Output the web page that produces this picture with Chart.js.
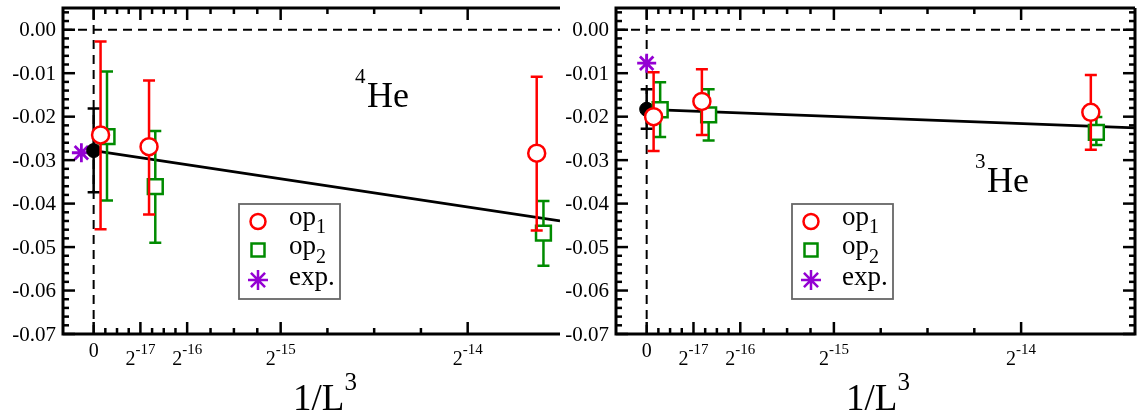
<!DOCTYPE html>
<html lang="en">
<head>
    <meta charset="UTF-8">
    <title>1/L^3 extrapolation</title>
    <script src="https://cdn.jsdelivr.net/npm/chart.js"></script>
    <style>
        body { margin: 0; background: #fff; }
        .panel { position: absolute; top: 0; }
        #he4 { left: 0; }
        #he3 { left: 560px; }
    </style>
</head>
<body>
<canvas id="he4" class="panel" width="565" height="416"></canvas>
<canvas id="he3" class="panel" width="581" height="416"></canvas>
<script>
// ---- 4He panel ----
const he4Op1X  = [1.13e-6, 9.04e-6, 7.23e-5];
const he4Op1Y  = [-0.0242, -0.0269, -0.0284];
const he4Op1Lo = [-0.0459, -0.0425, -0.0462];
const he4Op1Hi = [-0.0027, -0.0117, -0.0108];
const he4Op2X  = [2.18e-6, 1.006e-5, 7.34e-5];
const he4Op2Y  = [-0.0246, -0.0361, -0.0468];
const he4Op2Lo = [-0.0393, -0.0490, -0.0543];
const he4Op2Hi = [-0.0096, -0.0233, -0.0394];
const he4ExtX = [0], he4ExtY = [-0.0278], he4ExtLo = [-0.0374], he4ExtHi = [-0.0181];
const he4ExpX = [-2.0e-6], he4ExpY = [-0.0283];
const he4FitX = [0, 7.61e-5], he4FitY = [-0.0278, -0.0440];

// ---- 3He panel ----
const he3Op1X  = [1.13e-6, 9.0e-6, 7.24e-5];
const he3Op1Y  = [-0.0200, -0.0165, -0.0190];
const he3Op1Lo = [-0.0279, -0.0242, -0.0276];
const he3Op1Hi = [-0.0098, -0.0091, -0.0104];
const he3Op2X  = [2.2e-6, 1.01e-5, 7.33e-5];
const he3Op2Y  = [-0.0184, -0.0196, -0.0236];
const he3Op2Lo = [-0.0247, -0.0255, -0.0265];
const he3Op2Hi = [-0.0121, -0.0137, -0.0201];
const he3ExtX = [0], he3ExtY = [-0.0183], he3ExtLo = [-0.0228], he3ExtHi = [-0.0137];
const he3ExpX = [0], he3ExpY = [-0.0077];
const he3FitX = [0, 7.96e-5], he3FitY = [-0.0183, -0.0226];

// ---- axes ----
const xMajorTicks = [0, 2 ** -17, 2 ** -16, 2 ** -15, 2 ** -14];
const xMajorExp   = [null, '-17', '-16', '-15', '-14'];
const xMinorTicks = [1, 2, 3, 5, 6, 7].map(k => k * 2 ** -19)
    .concat([5, 6, 7].map(k => k * 2 ** -18))
    .concat([5, 6, 7].map(k => k * 2 ** -17));
const yMajorTicks = [0, -0.01, -0.02, -0.03, -0.04, -0.05, -0.06, -0.07];
const yMinorTicks = [];
for (let k = -35; k <= 2; k++) if (k % 5 !== 0) yMinorTicks.push(k * 0.002);

const RED = '#ff0000', GREEN = '#008b00', VIOLET = '#9400d3';
const SERIF = '"Liberation Serif", "Times New Roman", serif';

function pts(xs, ys) { return xs.map((x, i) => ({ x: x, y: ys[i] })); }

const errorBars = {
    id: 'errorBars',
    beforeDatasetDraw(chart, args) {
        const ds = chart.data.datasets[args.index];
        if (!ds.errLo) return;
        const ctx = chart.ctx, xs = chart.scales.x, ys = chart.scales.y;
        ctx.save();
        ctx.strokeStyle = ds.borderColor;
        ctx.lineWidth = 2.5;
        ds.data.forEach((p, i) => {
            const px = xs.getPixelForValue(p.x);
            const lo = ys.getPixelForValue(ds.errLo[i]);
            const hi = ys.getPixelForValue(ds.errHi[i]);
            ctx.beginPath();
            ctx.moveTo(px, lo); ctx.lineTo(px, hi);
            ctx.moveTo(px - 6, lo); ctx.lineTo(px + 6, lo);
            ctx.moveTo(px - 6, hi); ctx.lineTo(px + 6, hi);
            ctx.stroke();
        });
        ctx.restore();
    }
};

const zeroLines = {
    id: 'zeroLines',
    beforeDatasetsDraw(chart) {
        const ctx = chart.ctx, a = chart.chartArea;
        const x0 = chart.scales.x.getPixelForValue(0);
        const y0 = chart.scales.y.getPixelForValue(0);
        ctx.save();
        ctx.strokeStyle = '#000';
        ctx.lineWidth = 2;
        ctx.setLineDash([9, 6]);
        ctx.beginPath();
        ctx.moveTo(a.left, y0); ctx.lineTo(a.right, y0);
        ctx.moveTo(x0, a.bottom); ctx.lineTo(x0, a.top);
        ctx.stroke();
        ctx.restore();
    }
};

function drawSup(ctx, x, base, baseSize, baseY, sup, supSize, supY) {
    ctx.font = baseSize + 'px ' + SERIF;
    ctx.fillText(base, x, baseY);
    const w = ctx.measureText(base).width;
    ctx.font = supSize + 'px ' + SERIF;
    ctx.fillText(sup, x + w, supY);
}

function tick(ctx, x1, y1, x2, y2) {
    ctx.beginPath();
    ctx.moveTo(x1, y1);
    ctx.lineTo(x2, y2);
    ctx.stroke();
}

const frame = {
    id: 'frame',
    afterDraw(chart) {
        const o = chart.options.plugins.frame;
        const ctx = chart.ctx, a = chart.chartArea;
        const xs = chart.scales.x, ys = chart.scales.y;
        ctx.save();
        ctx.setLineDash([]);
        ctx.strokeStyle = '#000';
        ctx.fillStyle = '#000';

        // inward ticks
        ctx.lineWidth = 2.5;
        const xTicks = xMajorTicks.map(v => [v, 12]).concat(xMinorTicks.map(v => [v, 6]));
        xTicks.forEach(([v, len]) => {
            const px = xs.getPixelForValue(v);
            if (px < a.left || px > a.right) return;
            tick(ctx, px, a.bottom, px, a.bottom - len);
            tick(ctx, px, a.top, px, a.top + len);
        });
        const yTicks = yMajorTicks.map(v => [v, 12]).concat(yMinorTicks.map(v => [v, 6]));
        yTicks.forEach(([v, len]) => {
            const py = ys.getPixelForValue(v);
            tick(ctx, a.left, py, a.left + len, py);
            if (o.rightAxis) tick(ctx, a.right, py, a.right - len, py);
        });

        ctx.lineWidth = 3;
        ctx.beginPath();
        ctx.moveTo(a.right, a.top); ctx.lineTo(a.left, a.top);
        ctx.lineTo(a.left, a.bottom); ctx.lineTo(a.right, a.bottom);
        if (o.rightAxis) ctx.lineTo(a.right, a.top);
        ctx.stroke();

        // y labels
        ctx.font = '21px ' + SERIF;
        ctx.textAlign = 'right';
        ctx.textBaseline = 'middle';
        yMajorTicks.forEach(v => {
            ctx.fillText(v.toFixed(2), a.left - 7, ys.getPixelForValue(v) + 1);
        });

        // x labels
        ctx.textBaseline = 'alphabetic';
        ctx.textAlign = 'left';
        xMajorTicks.forEach((v, i) => {
            const px = xs.getPixelForValue(v);
            if (xMajorExp[i] === null) {
                ctx.font = '20px ' + SERIF;
                const w = ctx.measureText('0').width;
                ctx.fillText('0', px - w / 2, a.bottom + 23);
            } else {
                ctx.font = '20px ' + SERIF;
                const w1 = ctx.measureText('2').width;
                ctx.font = '15px ' + SERIF;
                const w2 = ctx.measureText(xMajorExp[i]).width;
                drawSup(ctx, px - (w1 + w2) / 2, '2', 20, a.bottom + 31, xMajorExp[i], 15, a.bottom + 20);
            }
        });

        // axis title 1/L^3
        ctx.font = '37px ' + SERIF;
        const tw = ctx.measureText('1/L').width;
        ctx.font = '25px ' + SERIF;
        const sw = ctx.measureText('3').width;
        drawSup(ctx, a.left + 262 - (tw + sw) / 2, '1/L', 37, 410, '3', 25, 390);

        // isotope label
        ctx.font = '21px ' + SERIF;
        ctx.fillText(o.iso, a.left + o.isoX, o.isoY - 24);
        ctx.font = '36px ' + SERIF;
        ctx.fillText('He', a.left + o.isoX + 12, o.isoY);

        // legend
        const lx = a.left + 176, ly = 204;
        ctx.strokeStyle = '#666';
        ctx.lineWidth = 1.8;
        ctx.strokeRect(lx, ly, 101, 95);
        const sx = a.left + 195;
        ctx.lineWidth = 2.5;
        ctx.strokeStyle = RED;
        ctx.beginPath(); ctx.arc(sx, 221.5, 7.5, 0, Math.PI * 2); ctx.stroke();
        ctx.strokeStyle = GREEN;
        ctx.strokeRect(sx - 6.5, 250 - 6.5, 13, 13);
        ctx.strokeStyle = VIOLET;
        ctx.beginPath();
        for (let k = 0; k < 4; k++) {
            const ang = k * Math.PI / 4;
            ctx.moveTo(sx - 10 * Math.cos(ang), 280 - 10 * Math.sin(ang));
            ctx.lineTo(sx + 10 * Math.cos(ang), 280 + 10 * Math.sin(ang));
        }
        ctx.stroke();
        ctx.fillStyle = '#000';
        const tx = a.left + 226;
        drawSup(ctx, tx, 'op', 27, 225, '1', 20, 233);
        drawSup(ctx, tx, 'op', 27, 254, '2', 20, 263);
        ctx.font = '27px ' + SERIF;
        ctx.fillText('exp.', tx, 285);
        ctx.restore();
    }
};

function makePanel(id, d, opt) {
    new Chart(document.getElementById(id), {
        type: 'scatter',
        data: {
            datasets: [
                {
                    data: pts(d.op1X, d.op1Y), errLo: d.op1Lo, errHi: d.op1Hi,
                    borderColor: RED, backgroundColor: '#fff',
                    pointStyle: 'circle', pointRadius: 8.5, borderWidth: 2.5
                },
                {
                    data: pts(d.op2X, d.op2Y), errLo: d.op2Lo, errHi: d.op2Hi,
                    borderColor: GREEN, backgroundColor: '#fff',
                    pointStyle: 'rect', pointRadius: 10.5, borderWidth: 2.5
                },
                {
                    type: 'line', data: pts(d.fitX, d.fitY),
                    borderColor: '#000', borderWidth: 2.8, pointRadius: 0, fill: false
                },
                {
                    data: pts(d.extX, d.extY), errLo: d.extLo, errHi: d.extHi,
                    borderColor: '#000', backgroundColor: '#000',
                    pointStyle: 'circle', pointRadius: 7, borderWidth: 1
                },
                {
                    data: pts(d.expX, d.expY),
                    borderColor: VIOLET, backgroundColor: VIOLET,
                    pointStyle: 'star', pointRadius: 9.5, borderWidth: 2.8
                }
            ]
        },
        options: {
            responsive: false,
            animation: false,
            devicePixelRatio: 1,
            layout: { padding: opt.padding, autoPadding: false },
            scales: {
                x: { type: 'linear', min: -5e-6, max: opt.xMax, display: false },
                y: { type: 'linear', min: -0.07, max: 0.005, display: false }
            },
            plugins: {
                legend: { display: false },
                tooltip: { enabled: false },
                frame: { rightAxis: opt.rightAxis, iso: opt.iso, isoX: opt.isoX, isoY: opt.isoY }
            }
        },
        plugins: [zeroLines, errorBars, frame]
    });
}

makePanel('he4', {
    op1X: he4Op1X, op1Y: he4Op1Y, op1Lo: he4Op1Lo, op1Hi: he4Op1Hi,
    op2X: he4Op2X, op2Y: he4Op2Y, op2Lo: he4Op2Lo, op2Hi: he4Op2Hi,
    extX: he4ExtX, extY: he4ExtY, extLo: he4ExtLo, extHi: he4ExtHi,
    expX: he4ExpX, expY: he4ExpY, fitX: he4FitX, fitY: he4FitY
}, { padding: { left: 63, right: 5, top: 8, bottom: 82 }, xMax: 7.61e-5, rightAxis: false,
     iso: '4', isoX: 292, isoY: 107 });

makePanel('he3', {
    op1X: he3Op1X, op1Y: he3Op1Y, op1Lo: he3Op1Lo, op1Hi: he3Op1Hi,
    op2X: he3Op2X, op2Y: he3Op2Y, op2Lo: he3Op2Lo, op2Hi: he3Op2Hi,
    extX: he3ExtX, extY: he3ExtY, extLo: he3ExtLo, extHi: he3ExtHi,
    expX: he3ExpX, expY: he3ExpY, fitX: he3FitX, fitY: he3FitY
}, { padding: { left: 56, right: 6, top: 8, bottom: 82 }, xMax: 7.96e-5, rightAxis: true,
     iso: '3', isoX: 359, isoY: 192 });
</script>
</body>
</html>
